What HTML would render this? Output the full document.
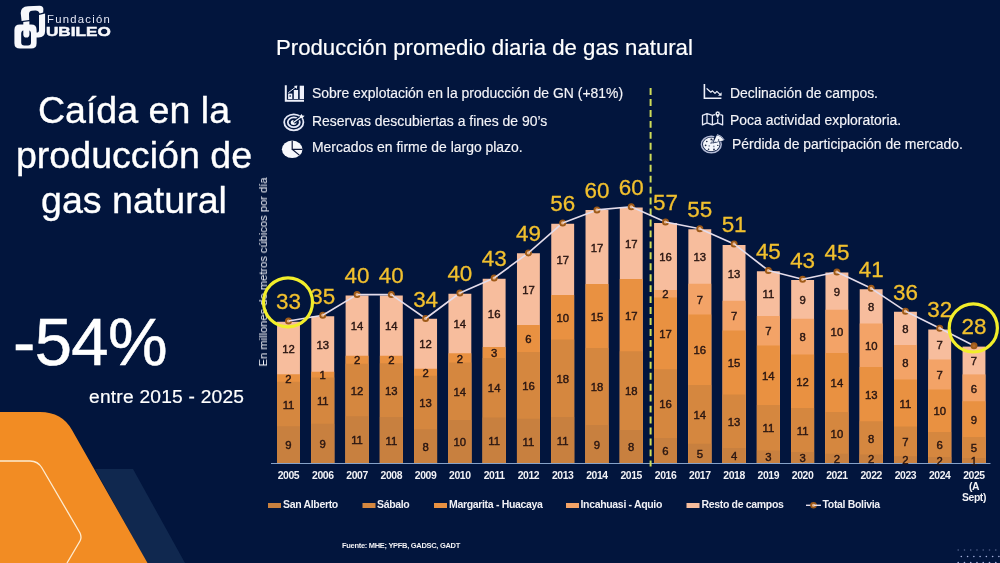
<!DOCTYPE html>
<html><head><meta charset="utf-8"><title>Producción promedio diaria de gas natural</title>
<style>
html,body{margin:0;padding:0;}
body{width:1000px;height:563px;overflow:hidden;background:#02153d;font-family:"Liberation Sans",sans-serif;color:#fff;position:relative;}
.abs{position:absolute;white-space:nowrap;will-change:transform;}
#main{left:0;top:87.9px;-webkit-text-stroke:0.35px #fff;width:268px;text-align:center;font-size:37.6px;line-height:44.8px;}
#pct{left:12.6px;top:303.8px;-webkit-text-stroke:0.5px #fff;font-size:67px;line-height:76px;letter-spacing:-0.6px;}
#sub{left:88.8px;top:386.4px;font-size:19.2px;line-height:22px;letter-spacing:0.22px;-webkit-text-stroke:0.2px #fff;}
#title{left:275.5px;top:34.5px;-webkit-text-stroke:0.2px #fff;font-size:22.2px;line-height:26px;}
.b{font-size:13.95px;line-height:16px;color:#f4f4f8;-webkit-text-stroke:0.15px #f4f4f8;}
#yl{left:263px;top:271.7px;font-size:11.15px;line-height:12px;transform:translate(-50%,-50%) rotate(-90deg);color:#f0f0f6;}
#src{left:341.5px;top:541px;font-size:7.5px;line-height:9px;font-weight:bold;color:#f0f0f4;letter-spacing:-0.3px;}
svg text{font-family:"Liberation Sans",sans-serif;}
#lg1{left:46.6px;top:11.6px;font-size:11.3px;line-height:14px;letter-spacing:1.25px;color:#e4e7f4;}
#lg2{left:46.2px;top:23.8px;font-size:13.6px;line-height:16px;font-weight:bold;transform-origin:0 0;transform:scaleX(1.26);color:#f7f8fc;-webkit-text-stroke:0.5px #f7f8fc;}
.v{font-size:11.3px;fill:#2a1612;stroke:#2a1612;stroke-width:0.42px;text-anchor:middle;}
.t{font-size:22.4px;fill:#f2c02e;stroke:#f2c02e;stroke-width:0.3px;text-anchor:middle;}
.y{font-size:10.4px;font-weight:bold;fill:#f2f2f6;text-anchor:middle;letter-spacing:-0.4px;}
.l{font-size:10.5px;font-weight:bold;fill:#f0f0f5;letter-spacing:-0.33px;}
</style></head><body>
<div id="yl" class="abs">En millones de metros cúbicos por día</div>
<svg class="abs" style="left:0;top:0" width="1000" height="563" viewBox="0 0 1000 563">
<!-- decorative shapes -->
<path d="M95,469 L133,469 L185,563 L147,563 Z" fill="#10284f"/>
<path d="M0,412 L40,412 Q62,412 72,430 L147.5,563 L0,563 Z" fill="#f28c23"/>
<path d="M0,461 L30,461 Q38,461 42,468 L80,533 Q82,537.5 80,541 L67,563" fill="none" stroke="#fdebd0" stroke-width="1.3"/>
<rect x="277.05" y="321.75" width="22.9" height="141.25" fill="#f7bd9d"/>
<rect x="277.05" y="374.25" width="22.9" height="88.75" fill="#e99141"/>
<rect x="277.05" y="381.75" width="22.9" height="81.25" fill="#d5873f"/>
<rect x="277.05" y="426.25" width="22.9" height="36.75" fill="#c8803f"/>
<rect x="311.32" y="316.25" width="22.9" height="146.75" fill="#f7bd9d"/>
<rect x="311.32" y="371.75" width="22.9" height="91.25" fill="#e99141"/>
<rect x="311.32" y="377.50" width="22.9" height="85.50" fill="#d5873f"/>
<rect x="311.32" y="423.75" width="22.9" height="39.25" fill="#c8803f"/>
<rect x="345.60" y="295.50" width="22.9" height="167.50" fill="#f7bd9d"/>
<rect x="345.60" y="355.75" width="22.9" height="107.25" fill="#e99141"/>
<rect x="345.60" y="363.75" width="22.9" height="99.25" fill="#d5873f"/>
<rect x="345.60" y="416.25" width="22.9" height="46.75" fill="#c8803f"/>
<rect x="379.88" y="295.50" width="22.9" height="167.50" fill="#f7bd9d"/>
<rect x="379.88" y="355.75" width="22.9" height="107.25" fill="#e99141"/>
<rect x="379.88" y="363.25" width="22.9" height="99.75" fill="#d5873f"/>
<rect x="379.88" y="417.00" width="22.9" height="46.00" fill="#c8803f"/>
<rect x="414.15" y="318.75" width="22.9" height="144.25" fill="#f7bd9d"/>
<rect x="414.15" y="368.75" width="22.9" height="94.25" fill="#e99141"/>
<rect x="414.15" y="375.75" width="22.9" height="87.25" fill="#d5873f"/>
<rect x="414.15" y="429.25" width="22.9" height="33.75" fill="#c8803f"/>
<rect x="448.43" y="293.75" width="22.9" height="169.25" fill="#f7bd9d"/>
<rect x="448.43" y="353.25" width="22.9" height="109.75" fill="#e99141"/>
<rect x="448.43" y="362.50" width="22.9" height="100.50" fill="#d5873f"/>
<rect x="448.43" y="420.00" width="22.9" height="43.00" fill="#c8803f"/>
<rect x="482.70" y="278.75" width="22.9" height="184.25" fill="#f7bd9d"/>
<rect x="482.70" y="347.00" width="22.9" height="116.00" fill="#e99141"/>
<rect x="482.70" y="358.00" width="22.9" height="105.00" fill="#d5873f"/>
<rect x="482.70" y="417.50" width="22.9" height="45.50" fill="#c8803f"/>
<rect x="516.97" y="253.25" width="22.9" height="209.75" fill="#f7bd9d"/>
<rect x="516.97" y="325.00" width="22.9" height="138.00" fill="#e99141"/>
<rect x="516.97" y="352.00" width="22.9" height="111.00" fill="#d5873f"/>
<rect x="516.97" y="418.75" width="22.9" height="44.25" fill="#c8803f"/>
<rect x="551.25" y="223.75" width="22.9" height="239.25" fill="#f7bd9d"/>
<rect x="551.25" y="295.00" width="22.9" height="168.00" fill="#e99141"/>
<rect x="551.25" y="339.50" width="22.9" height="123.50" fill="#d5873f"/>
<rect x="551.25" y="417.00" width="22.9" height="46.00" fill="#c8803f"/>
<rect x="585.52" y="210.00" width="22.9" height="253.00" fill="#f7bd9d"/>
<rect x="585.52" y="284.00" width="22.9" height="179.00" fill="#e99141"/>
<rect x="585.52" y="348.00" width="22.9" height="115.00" fill="#d5873f"/>
<rect x="585.52" y="425.00" width="22.9" height="38.00" fill="#c8803f"/>
<rect x="619.80" y="207.50" width="22.9" height="255.50" fill="#f7bd9d"/>
<rect x="619.80" y="279.00" width="22.9" height="184.00" fill="#e99141"/>
<rect x="619.80" y="351.25" width="22.9" height="111.75" fill="#d5873f"/>
<rect x="619.80" y="430.00" width="22.9" height="33.00" fill="#c8803f"/>
<rect x="654.07" y="223.00" width="22.9" height="240.00" fill="#f7bd9d"/>
<rect x="654.07" y="290.00" width="22.9" height="173.00" fill="#f3a367"/>
<rect x="654.07" y="297.50" width="22.9" height="165.50" fill="#e99141"/>
<rect x="654.07" y="369.25" width="22.9" height="93.75" fill="#d5873f"/>
<rect x="654.07" y="438.00" width="22.9" height="25.00" fill="#c8803f"/>
<rect x="688.35" y="229.25" width="22.9" height="233.75" fill="#f7bd9d"/>
<rect x="688.35" y="283.75" width="22.9" height="179.25" fill="#f3a367"/>
<rect x="688.35" y="314.50" width="22.9" height="148.50" fill="#e99141"/>
<rect x="688.35" y="385.00" width="22.9" height="78.00" fill="#d5873f"/>
<rect x="688.35" y="443.75" width="22.9" height="19.25" fill="#c8803f"/>
<rect x="722.62" y="245.00" width="22.9" height="218.00" fill="#f7bd9d"/>
<rect x="722.62" y="300.75" width="22.9" height="162.25" fill="#f3a367"/>
<rect x="722.62" y="330.50" width="22.9" height="132.50" fill="#e99141"/>
<rect x="722.62" y="394.50" width="22.9" height="68.50" fill="#d5873f"/>
<rect x="722.62" y="448.00" width="22.9" height="15.00" fill="#c8803f"/>
<rect x="756.90" y="271.25" width="22.9" height="191.75" fill="#f7bd9d"/>
<rect x="756.90" y="316.00" width="22.9" height="147.00" fill="#f3a367"/>
<rect x="756.90" y="345.50" width="22.9" height="117.50" fill="#e99141"/>
<rect x="756.90" y="405.00" width="22.9" height="58.00" fill="#d5873f"/>
<rect x="756.90" y="450.50" width="22.9" height="12.50" fill="#c8803f"/>
<rect x="791.17" y="280.00" width="22.9" height="183.00" fill="#f7bd9d"/>
<rect x="791.17" y="318.75" width="22.9" height="144.25" fill="#f3a367"/>
<rect x="791.17" y="354.50" width="22.9" height="108.50" fill="#e99141"/>
<rect x="791.17" y="408.00" width="22.9" height="55.00" fill="#d5873f"/>
<rect x="791.17" y="452.00" width="22.9" height="11.00" fill="#c8803f"/>
<rect x="825.45" y="272.50" width="22.9" height="190.50" fill="#f7bd9d"/>
<rect x="825.45" y="309.75" width="22.9" height="153.25" fill="#f3a367"/>
<rect x="825.45" y="353.00" width="22.9" height="110.00" fill="#e99141"/>
<rect x="825.45" y="412.00" width="22.9" height="51.00" fill="#d5873f"/>
<rect x="825.45" y="453.75" width="22.9" height="9.25" fill="#c8803f"/>
<rect x="859.72" y="289.25" width="22.9" height="173.75" fill="#f7bd9d"/>
<rect x="859.72" y="323.50" width="22.9" height="139.50" fill="#f3a367"/>
<rect x="859.72" y="367.00" width="22.9" height="96.00" fill="#e99141"/>
<rect x="859.72" y="421.25" width="22.9" height="41.75" fill="#d5873f"/>
<rect x="859.72" y="454.50" width="22.9" height="8.50" fill="#c8803f"/>
<rect x="894.00" y="311.75" width="22.9" height="151.25" fill="#f7bd9d"/>
<rect x="894.00" y="345.00" width="22.9" height="118.00" fill="#f3a367"/>
<rect x="894.00" y="379.50" width="22.9" height="83.50" fill="#e99141"/>
<rect x="894.00" y="426.50" width="22.9" height="36.50" fill="#d5873f"/>
<rect x="894.00" y="456.25" width="22.9" height="6.75" fill="#c8803f"/>
<rect x="928.27" y="329.50" width="22.9" height="133.50" fill="#f7bd9d"/>
<rect x="928.27" y="359.50" width="22.9" height="103.50" fill="#f3a367"/>
<rect x="928.27" y="389.50" width="22.9" height="73.50" fill="#e99141"/>
<rect x="928.27" y="432.00" width="22.9" height="31.00" fill="#d5873f"/>
<rect x="928.27" y="457.00" width="22.9" height="6.00" fill="#c8803f"/>
<rect x="962.55" y="346.60" width="22.9" height="116.40" fill="#f7bd9d"/>
<rect x="962.55" y="374.40" width="22.9" height="88.60" fill="#f3a367"/>
<rect x="962.55" y="401.25" width="22.9" height="61.75" fill="#e99141"/>
<rect x="962.55" y="437.00" width="22.9" height="26.00" fill="#d5873f"/>
<rect x="962.55" y="458.00" width="22.9" height="5.00" fill="#c8803f"/>
<line x1="271" y1="463.5" x2="990.5" y2="463.5" stroke="#86a2c9" stroke-width="1"/>
<line x1="650.6" y1="88.1" x2="650.6" y2="466.5" stroke="#cfdc58" stroke-width="2" stroke-dasharray="6.9 4.05"/>
<text x="288.50" y="449.32" class="v">9</text>
<text x="288.50" y="408.70" class="v">11</text>
<text x="288.50" y="382.70" class="v">2</text>
<text x="288.50" y="352.70" class="v">12</text>
<text x="322.77" y="448.07" class="v">9</text>
<text x="322.77" y="405.32" class="v">11</text>
<text x="322.77" y="379.32" class="v">1</text>
<text x="322.77" y="348.70" class="v">13</text>
<text x="357.05" y="444.32" class="v">11</text>
<text x="357.05" y="394.70" class="v">12</text>
<text x="357.05" y="364.45" class="v">2</text>
<text x="357.05" y="330.32" class="v">14</text>
<text x="391.32" y="444.70" class="v">11</text>
<text x="391.32" y="394.82" class="v">13</text>
<text x="391.32" y="364.20" class="v">2</text>
<text x="391.32" y="330.32" class="v">14</text>
<text x="425.60" y="450.82" class="v">8</text>
<text x="425.60" y="407.20" class="v">13</text>
<text x="425.60" y="376.95" class="v">2</text>
<text x="425.60" y="348.45" class="v">12</text>
<text x="459.88" y="446.20" class="v">10</text>
<text x="459.88" y="395.95" class="v">14</text>
<text x="459.88" y="362.57" class="v">2</text>
<text x="459.88" y="328.20" class="v">14</text>
<text x="494.15" y="444.95" class="v">11</text>
<text x="494.15" y="392.45" class="v">14</text>
<text x="494.15" y="357.20" class="v">3</text>
<text x="494.15" y="317.57" class="v">16</text>
<text x="528.42" y="445.57" class="v">11</text>
<text x="528.42" y="390.07" class="v">16</text>
<text x="528.42" y="343.20" class="v">6</text>
<text x="528.42" y="293.82" class="v">17</text>
<text x="562.70" y="444.70" class="v">11</text>
<text x="562.70" y="382.95" class="v">18</text>
<text x="562.70" y="321.95" class="v">10</text>
<text x="562.70" y="264.07" class="v">17</text>
<text x="596.97" y="448.70" class="v">9</text>
<text x="596.97" y="391.20" class="v">18</text>
<text x="596.97" y="320.70" class="v">15</text>
<text x="596.97" y="251.70" class="v">17</text>
<text x="631.25" y="451.20" class="v">8</text>
<text x="631.25" y="395.32" class="v">18</text>
<text x="631.25" y="319.82" class="v">17</text>
<text x="631.25" y="247.95" class="v">17</text>
<text x="665.52" y="455.20" class="v">6</text>
<text x="665.52" y="408.32" class="v">16</text>
<text x="665.52" y="338.07" class="v">17</text>
<text x="665.52" y="298.45" class="v">2</text>
<text x="665.52" y="261.20" class="v">16</text>
<text x="699.80" y="458.07" class="v">5</text>
<text x="699.80" y="419.07" class="v">14</text>
<text x="699.80" y="354.45" class="v">16</text>
<text x="699.80" y="303.82" class="v">7</text>
<text x="699.80" y="261.20" class="v">13</text>
<text x="734.08" y="460.20" class="v">4</text>
<text x="734.08" y="425.95" class="v">13</text>
<text x="734.08" y="367.20" class="v">15</text>
<text x="734.08" y="320.32" class="v">7</text>
<text x="734.08" y="277.57" class="v">13</text>
<text x="768.35" y="461.45" class="v">3</text>
<text x="768.35" y="432.45" class="v">11</text>
<text x="768.35" y="379.95" class="v">14</text>
<text x="768.35" y="335.45" class="v">7</text>
<text x="768.35" y="298.32" class="v">11</text>
<text x="802.62" y="462.20" class="v">3</text>
<text x="802.62" y="434.70" class="v">11</text>
<text x="802.62" y="385.95" class="v">12</text>
<text x="802.62" y="341.32" class="v">8</text>
<text x="802.62" y="304.07" class="v">9</text>
<text x="836.90" y="463.07" class="v">2</text>
<text x="836.90" y="437.57" class="v">10</text>
<text x="836.90" y="387.20" class="v">14</text>
<text x="836.90" y="336.07" class="v">10</text>
<text x="836.90" y="295.82" class="v">9</text>
<text x="871.17" y="463.45" class="v">2</text>
<text x="871.17" y="442.57" class="v">8</text>
<text x="871.17" y="398.82" class="v">13</text>
<text x="871.17" y="349.95" class="v">10</text>
<text x="871.17" y="311.07" class="v">8</text>
<text x="905.45" y="464.32" class="v">2</text>
<text x="905.45" y="446.07" class="v">7</text>
<text x="905.45" y="407.70" class="v">11</text>
<text x="905.45" y="366.95" class="v">8</text>
<text x="905.45" y="333.07" class="v">8</text>
<text x="939.73" y="464.70" class="v">2</text>
<text x="939.73" y="449.20" class="v">6</text>
<text x="939.73" y="415.45" class="v">10</text>
<text x="939.73" y="379.20" class="v">7</text>
<text x="939.73" y="349.20" class="v">7</text>
<text x="974.00" y="465.20" class="v">1</text>
<text x="974.00" y="452.20" class="v">5</text>
<text x="974.00" y="423.82" class="v">9</text>
<text x="974.00" y="392.52" class="v">6</text>
<text x="974.00" y="365.20" class="v">7</text>
<path d="M288.50,321.00 L322.77,315.20 L357.05,294.60 L391.32,294.60 L425.60,318.50 L459.88,293.00 L494.15,278.00 L528.42,252.90 L562.70,222.90 L596.97,209.90 L631.25,206.80 L665.52,222.00 L699.80,228.70 L734.08,243.90 L768.35,270.50 L802.62,279.30 L836.90,272.00 L871.17,288.30 L905.45,311.20 L939.73,328.20 L974.00,345.80" fill="none" stroke="#e4dcea" stroke-width="1.6" stroke-linejoin="round"/>
<circle cx="288.50" cy="321.00" r="2.55" fill="#e9b78f" stroke="#9e5a18" stroke-width="1.9"/>
<line x1="289.09" y1="320.90" x2="292.44" y2="320.33" stroke="#e4dcea" stroke-width="1.5"/>
<circle cx="322.77" cy="315.20" r="2.55" fill="#e9b78f" stroke="#9e5a18" stroke-width="1.9"/>
<line x1="323.29" y1="314.89" x2="326.20" y2="313.14" stroke="#e4dcea" stroke-width="1.5"/>
<circle cx="357.05" cy="294.60" r="2.55" fill="#e9b78f" stroke="#9e5a18" stroke-width="1.9"/>
<line x1="357.65" y1="294.60" x2="361.05" y2="294.60" stroke="#e4dcea" stroke-width="1.5"/>
<circle cx="391.32" cy="294.60" r="2.55" fill="#e9b78f" stroke="#9e5a18" stroke-width="1.9"/>
<line x1="391.82" y1="294.94" x2="394.61" y2="296.89" stroke="#e4dcea" stroke-width="1.5"/>
<circle cx="425.60" cy="318.50" r="2.55" fill="#e9b78f" stroke="#9e5a18" stroke-width="1.9"/>
<line x1="426.08" y1="318.14" x2="428.81" y2="316.11" stroke="#e4dcea" stroke-width="1.5"/>
<circle cx="459.88" cy="293.00" r="2.55" fill="#e9b78f" stroke="#9e5a18" stroke-width="1.9"/>
<line x1="460.42" y1="292.76" x2="463.54" y2="291.40" stroke="#e4dcea" stroke-width="1.5"/>
<circle cx="494.15" cy="278.00" r="2.55" fill="#e9b78f" stroke="#9e5a18" stroke-width="1.9"/>
<line x1="494.63" y1="277.65" x2="497.38" y2="275.64" stroke="#e4dcea" stroke-width="1.5"/>
<circle cx="528.42" cy="252.90" r="2.55" fill="#e9b78f" stroke="#9e5a18" stroke-width="1.9"/>
<line x1="528.88" y1="252.50" x2="531.43" y2="250.27" stroke="#e4dcea" stroke-width="1.5"/>
<circle cx="562.70" cy="222.90" r="2.55" fill="#e9b78f" stroke="#9e5a18" stroke-width="1.9"/>
<line x1="563.26" y1="222.69" x2="566.44" y2="221.48" stroke="#e4dcea" stroke-width="1.5"/>
<circle cx="596.97" cy="209.90" r="2.55" fill="#e9b78f" stroke="#9e5a18" stroke-width="1.9"/>
<line x1="597.57" y1="209.85" x2="600.96" y2="209.54" stroke="#e4dcea" stroke-width="1.5"/>
<circle cx="631.25" cy="206.80" r="2.55" fill="#e9b78f" stroke="#9e5a18" stroke-width="1.9"/>
<line x1="631.80" y1="207.04" x2="634.91" y2="208.42" stroke="#e4dcea" stroke-width="1.5"/>
<circle cx="665.52" cy="222.00" r="2.55" fill="#e9b78f" stroke="#9e5a18" stroke-width="1.9"/>
<line x1="666.11" y1="222.12" x2="669.45" y2="222.77" stroke="#e4dcea" stroke-width="1.5"/>
<circle cx="699.80" cy="228.70" r="2.55" fill="#e9b78f" stroke="#9e5a18" stroke-width="1.9"/>
<line x1="700.35" y1="228.94" x2="703.46" y2="230.32" stroke="#e4dcea" stroke-width="1.5"/>
<circle cx="734.08" cy="243.90" r="2.55" fill="#e9b78f" stroke="#9e5a18" stroke-width="1.9"/>
<line x1="734.55" y1="244.27" x2="737.24" y2="246.35" stroke="#e4dcea" stroke-width="1.5"/>
<circle cx="768.35" cy="270.50" r="2.55" fill="#e9b78f" stroke="#9e5a18" stroke-width="1.9"/>
<line x1="768.93" y1="270.65" x2="772.22" y2="271.49" stroke="#e4dcea" stroke-width="1.5"/>
<circle cx="802.62" cy="279.30" r="2.55" fill="#e9b78f" stroke="#9e5a18" stroke-width="1.9"/>
<line x1="803.21" y1="279.18" x2="806.54" y2="278.47" stroke="#e4dcea" stroke-width="1.5"/>
<circle cx="836.90" cy="272.00" r="2.55" fill="#e9b78f" stroke="#9e5a18" stroke-width="1.9"/>
<line x1="837.44" y1="272.26" x2="840.51" y2="273.72" stroke="#e4dcea" stroke-width="1.5"/>
<circle cx="871.17" cy="288.30" r="2.55" fill="#e9b78f" stroke="#9e5a18" stroke-width="1.9"/>
<line x1="871.67" y1="288.63" x2="874.50" y2="290.52" stroke="#e4dcea" stroke-width="1.5"/>
<circle cx="905.45" cy="311.20" r="2.55" fill="#e9b78f" stroke="#9e5a18" stroke-width="1.9"/>
<line x1="905.99" y1="311.47" x2="909.03" y2="312.98" stroke="#e4dcea" stroke-width="1.5"/>
<circle cx="939.73" cy="328.20" r="2.55" fill="#e9b78f" stroke="#9e5a18" stroke-width="1.9"/>
<line x1="940.26" y1="328.47" x2="943.28" y2="330.03" stroke="#e4dcea" stroke-width="1.5"/>
<circle cx="974.00" cy="345.80" r="2.55" fill="#b06a2c" stroke="#9e5a18" stroke-width="1.9"/>
<text x="288.50" y="309.40" class="t">33</text>
<text x="322.77" y="303.60" class="t">35</text>
<text x="357.05" y="283.00" class="t">40</text>
<text x="391.32" y="283.00" class="t">40</text>
<text x="425.60" y="306.90" class="t">34</text>
<text x="459.88" y="281.40" class="t">40</text>
<text x="494.15" y="266.40" class="t">43</text>
<text x="528.42" y="241.30" class="t">49</text>
<text x="562.70" y="211.30" class="t">56</text>
<text x="596.97" y="198.30" class="t">60</text>
<text x="631.25" y="195.20" class="t">60</text>
<text x="665.52" y="210.40" class="t">57</text>
<text x="699.80" y="217.10" class="t">55</text>
<text x="734.08" y="232.30" class="t">51</text>
<text x="768.35" y="258.90" class="t">45</text>
<text x="802.62" y="267.70" class="t">43</text>
<text x="836.90" y="260.40" class="t">45</text>
<text x="871.17" y="276.70" class="t">41</text>
<text x="905.45" y="299.60" class="t">36</text>
<text x="939.73" y="316.60" class="t">32</text>
<text x="974.00" y="334.20" class="t">28</text>
<circle cx="288" cy="302.3" r="24.5" fill="none" stroke="#f2ee2a" stroke-width="3.2"/>
<circle cx="973.3" cy="327.9" r="24.1" fill="none" stroke="#f2ee2a" stroke-width="3.2"/>
<text x="288.50" y="478.6" class="y">2005</text>
<text x="322.77" y="478.6" class="y">2006</text>
<text x="357.05" y="478.6" class="y">2007</text>
<text x="391.32" y="478.6" class="y">2008</text>
<text x="425.60" y="478.6" class="y">2009</text>
<text x="459.88" y="478.6" class="y">2010</text>
<text x="494.15" y="478.6" class="y">2011</text>
<text x="528.42" y="478.6" class="y">2012</text>
<text x="562.70" y="478.6" class="y">2013</text>
<text x="596.97" y="478.6" class="y">2014</text>
<text x="631.25" y="478.6" class="y">2015</text>
<text x="665.52" y="478.6" class="y">2016</text>
<text x="699.80" y="478.6" class="y">2017</text>
<text x="734.08" y="478.6" class="y">2018</text>
<text x="768.35" y="478.6" class="y">2019</text>
<text x="802.62" y="478.6" class="y">2020</text>
<text x="836.90" y="478.6" class="y">2021</text>
<text x="871.17" y="478.6" class="y">2022</text>
<text x="905.45" y="478.6" class="y">2023</text>
<text x="939.73" y="478.6" class="y">2024</text>
<text x="974.00" y="478.6" class="y">2025</text>
<text x="974" y="490.2" class="y">(A</text>
<text x="974" y="501.2" class="y">Sept)</text>
<rect x="268" y="503" width="13" height="5" fill="#c8803f"/>
<text x="283" y="507.8" class="l">San Alberto</text>
<rect x="362.5" y="503" width="13" height="5" fill="#d5873f"/>
<text x="377" y="507.8" class="l">Sábalo</text>
<rect x="434" y="503" width="13" height="5" fill="#e99141"/>
<text x="449" y="507.8" class="l">Margarita - Huacaya</text>
<rect x="566" y="503" width="13" height="5" fill="#f3a367"/>
<text x="580.5" y="507.8" class="l">Incahuasi - Aquio</text>
<rect x="686.5" y="503" width="13" height="5" fill="#f7bd9d"/>
<text x="701.5" y="507.8" class="l">Resto de campos</text>
<line x1="806" y1="505.3" x2="821" y2="505.3" stroke="#e4dcea" stroke-width="1.4"/>
<circle cx="813.5" cy="505.3" r="2.4" fill="#e9b78f" stroke="#9e5a18" stroke-width="1.8"/><line x1="814" y1="505.3" x2="817" y2="505.3" stroke="#e4dcea" stroke-width="1.4"/>
<text x="822.5" y="507.8" class="l">Total Bolivia</text>
<circle cx="958.20" cy="550" r="0.8" fill="#b9c2ee" opacity="0.45"/>
<circle cx="964.46" cy="550" r="0.8" fill="#b9c2ee" opacity="0.45"/>
<circle cx="970.72" cy="550" r="0.8" fill="#b9c2ee" opacity="0.45"/>
<circle cx="976.98" cy="550" r="0.8" fill="#b9c2ee" opacity="0.45"/>
<circle cx="983.24" cy="550" r="0.8" fill="#b9c2ee" opacity="0.45"/>
<circle cx="989.50" cy="550" r="0.8" fill="#b9c2ee" opacity="0.45"/>
<circle cx="995.76" cy="550" r="0.8" fill="#b9c2ee" opacity="0.45"/>
<circle cx="961.33" cy="556.5" r="0.8" fill="#b9c2ee" opacity="0.9"/>
<circle cx="967.59" cy="556.5" r="0.8" fill="#b9c2ee" opacity="0.9"/>
<circle cx="973.85" cy="556.5" r="0.8" fill="#b9c2ee" opacity="0.9"/>
<circle cx="980.11" cy="556.5" r="0.8" fill="#b9c2ee" opacity="0.9"/>
<circle cx="986.37" cy="556.5" r="0.8" fill="#b9c2ee" opacity="0.9"/>
<circle cx="992.63" cy="556.5" r="0.8" fill="#b9c2ee" opacity="0.9"/>
<circle cx="998.89" cy="556.5" r="0.8" fill="#b9c2ee" opacity="0.9"/>
<circle cx="958.20" cy="562.6" r="0.8" fill="#b9c2ee" opacity="0.9"/>
<circle cx="964.46" cy="562.6" r="0.8" fill="#b9c2ee" opacity="0.9"/>
<circle cx="970.72" cy="562.6" r="0.8" fill="#b9c2ee" opacity="0.9"/>
<circle cx="976.98" cy="562.6" r="0.8" fill="#b9c2ee" opacity="0.9"/>
<circle cx="983.24" cy="562.6" r="0.8" fill="#b9c2ee" opacity="0.9"/>
<circle cx="989.50" cy="562.6" r="0.8" fill="#b9c2ee" opacity="0.9"/>
<circle cx="995.76" cy="562.6" r="0.8" fill="#b9c2ee" opacity="0.9"/>
</svg>
<svg class="abs" style="left:0;top:0" width="130" height="60" viewBox="0 0 130 60">
<g fill="#f7f8fc">
<!-- lower link -->
<path fill-rule="evenodd" d="M20,24.6 H31.2 Q36.6,24.6 36.6,30 V43.2 Q36.6,48.6 31.2,48.6 H20 Q14.4,48.6 14.4,43.2 V30 Q14.4,24.6 20,24.6 Z M24.6,30.2 Q21.2,30.2 21.2,33.6 V42.4 Q21.2,45.4 24.2,45.4 H28 Q31,45.4 31,42.4 V33.6 Q31,30.2 27.6,30.2 Z"/>
<!-- upper-left leg inside hole -->
<path d="M23.3,22 L29.4,21.2 V34.5 Q29.4,37.6 26.4,37.6 Q23.3,37.6 23.3,34.5 Z"/>
<!-- top hook -->
<path d="M21.6,20.9 L20.7,13 Q20.6,6.6 28,6.2 L39.5,5.8 Q43.4,6 43.4,9 L43.2,12.4 L39.6,13.6 Q38.6,10.4 35.2,10.6 L32,10.8 Q29,11 29,14 L29.2,20 Z"/>
<!-- right stem & J hook -->
<path d="M39,15 L45.1,13.4 V31 Q45.1,37.4 38.6,37.4 H33 V32.6 H36.6 Q39,32.6 39,30 Z"/>
</g>
</svg>
<div class="abs" id="lg1">Fundación</div>
<div class="abs" id="lg2">UBILEO</div>
<div id="main" class="abs">Caída en la<br>producción de<br>gas natural</div>
<div id="pct" class="abs">-54%</div>
<div id="sub" class="abs">entre 2015 - 2025</div>
<div id="title" class="abs">Producción promedio diaria de gas natural</div>
<div class="abs b" style="left:311.7px;top:84.5px">Sobre explotación en la producción de GN (+81%)</div>
<div class="abs b" style="left:311.7px;top:112.8px">Reservas descubiertas a fines de 90’s</div>
<div class="abs b" style="left:311.7px;top:139.2px">Mercados en firme de largo plazo.</div>
<div class="abs b" style="left:729.5px;top:84.5px">Declinación de campos.</div>
<div class="abs b" style="left:729.5px;top:112.3px">Poca actividad exploratoria.</div>
<div class="abs b" style="left:732px;top:135.8px">Pérdida de participación de mercado.</div>
<svg class="abs" style="left:0;top:0" width="1000" height="563" viewBox="0 0 1000 563" fill="none">
<!-- icon1: bar chart with arrow -->
<g fill="#eef0fa" stroke="none">
<path d="M284.8,85.2 h2 v14.6 h17.2 v1.9 h-19.2 z"/>
<rect x="288.1" y="93.6" width="4.2" height="5.4"/><rect x="293.8" y="90" width="4.3" height="9"/><rect x="299.7" y="85.7" width="4.3" height="13.3"/>
<path d="M297.3,85.6 l-3.4,0.5 l2.9,2.9 z"/>
</g>
<path d="M288.4,92.6 L295.8,87" stroke="#eef0fa" stroke-width="1"/>
<rect x="289.5" y="95.3" width="1.4" height="1.4" fill="#02153d"/>
<!-- icon2: target -->
<g stroke="#e6e9f7" stroke-width="1.8">
<ellipse cx="293.8" cy="122.3" rx="9.6" ry="8"/><ellipse cx="293.8" cy="122.3" rx="6" ry="4.9"/>
</g>
<ellipse cx="293.6" cy="122.5" rx="2.9" ry="2.5" fill="#f4f6fc"/>
<path d="M293.8,122.3 L301.5,116.6" stroke="#02153d" stroke-width="3.4"/>
<path d="M293.8,122.3 L301.8,116.4" stroke="#f4f6fc" stroke-width="1.3"/>
<path d="M299.6,116.3 L301.6,113.9 L302.4,115.6 L304.6,115.8 L302.4,118.2 L300.4,118 Z" fill="#f4f6fc"/>
<!-- icon3: pie -->
<ellipse cx="292.2" cy="149.3" rx="10.3" ry="8.7" fill="#f7f8fc"/>
<path d="M292.2,140.4 V149.3 H302.6 M292.2,149.3 L299.6,155.4" stroke="#0c1538" stroke-width="1.2"/>
<!-- icon4: declining chart -->
<path d="M703.6,84.1 h1.6 v13.3 h16.2 v1.6 h-17.8 z" fill="#eef0fa"/>
<path d="M707,88.7 L710.8,92.2 L712.5,90.8 L715,93.3 L716.9,91.4 L720,94.4" stroke="#eef0fa" stroke-width="1.2" stroke-linejoin="round" stroke-linecap="round"/>
<path d="M721.6,92.2 V95.8 H718 Z" fill="#eef0fa"/>
<!-- icon5: map -->
<path d="M702.5,115.4 L707,113.7 L712.4,115.4 L717.7,113.7 L722.6,115.4 V124.9 L717.7,122.9 L712.4,124.9 L707,122.9 L702.5,124.9 Z M707,113.7 V122.9 M712.4,115.4 V124.9 M717.7,118 V122.9" stroke="#e6e9f7" stroke-width="1.3" stroke-linejoin="round"/>
<path d="M717.7,119 C716.6,116.6 715.2,115.2 715.2,113.6 A2.5,2.5 0 0 1 720.2,113.6 C720.2,115.2 718.8,116.6 717.7,119 Z" fill="#f4f6fc" stroke="#02153d" stroke-width="0.6"/>
<circle cx="717.7" cy="113.5" r="0.85" fill="#02153d"/>
<!-- icon6: pizza -->
<ellipse cx="711.3" cy="144.5" rx="9.9" ry="8.2" stroke="#b4bbd6" stroke-width="1.5" fill="#02153d"/>
<ellipse cx="711.3" cy="144.4" rx="8.3" ry="6.8" fill="#f4f6fc"/>
<path d="M712.6,143.4 L714.6,135.6 L722.6,141 Z" fill="#02153d"/>
<path d="M713.4,142.6 L716.8,135.2 Q721.5,136.3 723.6,140.4 Z" fill="#f4f6fc"/>
<path d="M717.2,134.6 Q722.2,135.8 724.2,140" stroke="#c9cfe6" stroke-width="1"/>
<path d="M711.3,143.6 L713,139 M710,143.2 L716,142" stroke="#55607e" stroke-width="0.8"/>
<g fill="#1a2340"><circle cx="711.3" cy="139.4" r="0.9"/><circle cx="706.8" cy="141.5" r="0.8"/><circle cx="705.6" cy="145.3" r="0.9"/><circle cx="708.6" cy="149.3" r="0.8"/><circle cx="714" cy="149.5" r="0.9"/><circle cx="717.8" cy="145.4" r="0.7"/><circle cx="718.6" cy="140" r="0.7"/></g>
<g fill="#8b93ab"><circle cx="709.2" cy="145.8" r="0.9"/><circle cx="713.8" cy="146.4" r="0.9"/></g>
</svg>
<div id="src" class="abs">Fuente: MHE; YPFB, GADSC, GADT</div>
</body></html>
